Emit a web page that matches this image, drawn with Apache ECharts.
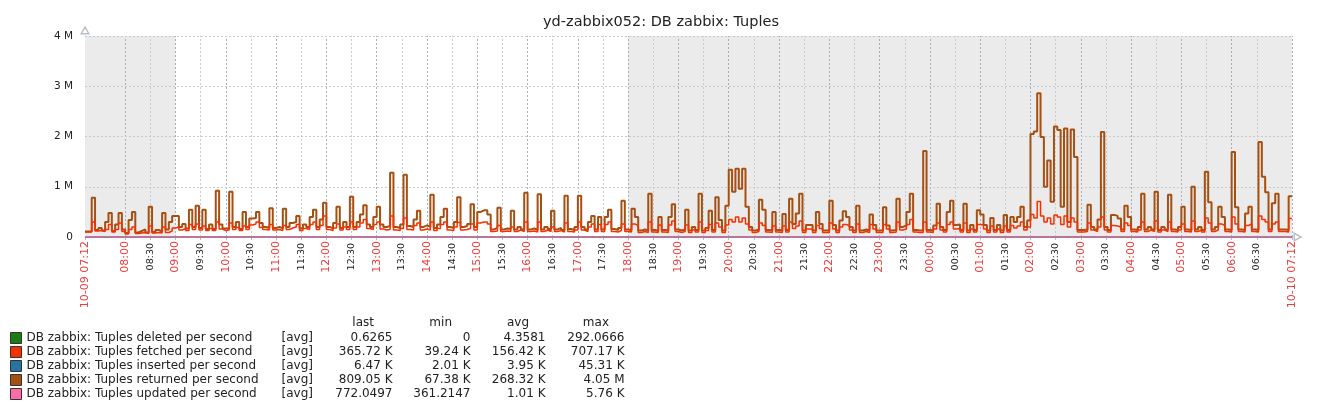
<!DOCTYPE html>
<html>
<head>
<meta charset="utf-8">
<script src="https://cdn.jsdelivr.net/npm/echarts@6/dist/echarts.min.js"></script>
<style>
  html, body { margin: 0; padding: 0; background: #fff; }
  #chart { width: 1322px; height: 411px; }
</style>
</head>
<body>
<div id="chart"></div>
<script>
// one value every 4 minutes, starting at 10-09 07:12 (values in K per second)
const STEP_MIN = 4;
const returnedK = [
  110, 110, 780, 140, 180, 130, 300, 480, 120, 250, 480, 150,               // 07:12
  80, 340, 500, 90, 120, 150, 90, 600, 100, 140, 110, 480, 150, 300, 420,   // 08
  420, 200, 260, 170, 540, 200, 620, 180, 540, 160, 250, 160, 920, 250, 170, // 09
  170, 900, 200, 300, 160, 500, 200, 370, 380, 500, 280, 200, 180, 570, 180, // 10
  200, 170, 560, 200, 280, 300, 420, 170, 250, 200, 400, 540, 200, 350, 680, // 11
  200, 170, 280, 600, 180, 300, 200, 800, 200, 300, 450, 630, 250, 200, 400, // 12
  600, 250, 200, 220, 1280, 200, 180, 250, 1240, 220, 200, 350, 520, 200, 230, // 13
  200, 840, 180, 250, 400, 560, 200, 180, 300, 790, 200, 220, 260, 650, 200, // 14
  500, 530, 530, 450, 150, 180, 580, 150, 170, 160, 520, 150, 200, 150, 880, // 15
  150, 170, 140, 850, 150, 200, 160, 520, 150, 180, 140, 820, 160, 140, 200, // 16
  820, 200, 150, 300, 420, 150, 400, 150, 400, 540, 160, 140, 180, 720, 150, // 17
  140, 560, 400, 130, 150, 130, 860, 140, 120, 400, 140, 130, 400, 650, 150, // 18
  130, 150, 540, 130, 200, 140, 860, 130, 180, 520, 140, 790, 340, 130, 620, // 19
  1340, 900, 1360, 960, 1360, 600, 200, 130, 150, 740, 540, 140, 130, 500, 140, // 20
  130, 460, 140, 760, 260, 470, 860, 130, 240, 240, 130, 500, 260, 130, 130, // 21
  720, 240, 130, 330, 510, 400, 200, 130, 620, 130, 150, 130, 450, 240, 130, // 22
  130, 590, 230, 130, 140, 760, 200, 230, 500, 860, 140, 130, 130, 1710, 140, // 23
  130, 230, 660, 200, 140, 500, 720, 240, 250, 140, 660, 130, 240, 140, 530, // 00
  450, 240, 130, 380, 140, 240, 130, 440, 140, 400, 300, 400, 600, 200, 330, // 01
  2050, 2100, 2860, 1990, 1000, 1520, 700, 2200, 2130, 600, 2160, 300, 2140, 1590, 140, // 02
  140, 150, 640, 200, 150, 350, 2090, 200, 140, 440, 420, 370, 150, 620, 400, // 03
  150, 140, 200, 860, 150, 200, 150, 900, 140, 200, 150, 840, 150, 140, 200, // 04
  600, 150, 140, 1000, 150, 200, 140, 1300, 690, 150, 200, 600, 400, 150, 140, // 05
  1690, 590, 150, 140, 470, 600, 150, 140, 1890, 1200, 890, 150, 670, 860, 150, // 06
  150, 140, 809                                                              // 07
];
const fetchedK = [
  100, 100, 300, 120, 130, 110, 150, 250, 100, 150, 280, 110,
  60, 150, 200, 70, 80, 90, 70, 220, 80, 90, 80, 200, 90, 120, 180,
  200, 140, 170, 130, 250, 150, 260, 140, 220, 130, 170, 130, 300, 160, 130,
  140, 280, 150, 190, 130, 220, 150, 240, 260, 300, 190, 150, 140, 250, 140,
  150, 130, 230, 150, 180, 200, 250, 130, 170, 150, 250, 300, 150, 230, 420,
  150, 130, 180, 260, 140, 200, 150, 300, 150, 200, 280, 350, 170, 150, 250,
  300, 160, 140, 150, 420, 140, 130, 170, 380, 150, 140, 230, 280, 140, 160,
  140, 300, 130, 170, 250, 300, 140, 130, 200, 290, 140, 150, 170, 260, 140,
  280, 300, 300, 260, 110, 120, 230, 110, 120, 110, 200, 110, 140, 110, 300,
  110, 120, 100, 300, 110, 140, 110, 200, 110, 130, 100, 280, 110, 100, 140,
  300, 140, 110, 200, 260, 110, 250, 110, 250, 300, 110, 100, 130, 260, 110,
  100, 260, 230, 90, 110, 90, 300, 100, 90, 240, 100, 90, 240, 320, 110,
  90, 110, 240, 90, 140, 100, 300, 90, 130, 250, 100, 280, 200, 90, 240,
  350, 300, 400, 300, 380, 260, 140, 90, 110, 280, 230, 100, 90, 220, 100,
  90, 220, 100, 300, 170, 220, 320, 90, 160, 160, 90, 230, 170, 90, 90,
  280, 160, 90, 200, 250, 230, 140, 90, 260, 90, 110, 90, 250, 160, 90,
  90, 250, 160, 90, 100, 300, 140, 160, 250, 350, 100, 90, 90, 300, 100,
  90, 160, 280, 140, 100, 250, 300, 160, 170, 100, 280, 90, 160, 100, 250,
  240, 160, 90, 220, 100, 160, 90, 220, 100, 230, 180, 220, 300, 140, 200,
  450, 380, 707, 420, 300, 380, 260, 440, 400, 250, 420, 200, 380, 300, 100,
  100, 110, 280, 140, 110, 200, 400, 140, 100, 230, 220, 200, 110, 280, 230,
  110, 100, 140, 300, 110, 140, 110, 320, 100, 140, 110, 300, 110, 100, 140,
  260, 110, 100, 320, 110, 140, 100, 380, 280, 110, 140, 260, 230, 110, 100,
  400, 260, 110, 100, 230, 260, 110, 100, 420, 350, 300, 110, 260, 300, 110,
  110, 100, 366
];
// hourly values for the small series
const HOUR_MIN = 60;
const deletedPerSec = [0.8, 3.1, 5.2, 4.4, 6.0, 2.7, 3.5, 4.9, 7.1, 3.3, 2.2, 4.0, 5.6, 3.8, 2.9, 6.4, 4.7, 3.0, 2.4, 5.1, 4.2, 3.6, 6.8, 2.5, 0.6];
const insertedK = [3.6, 4.1, 4.4, 4.0, 3.8, 4.3, 4.2, 3.9, 4.5, 4.1, 3.7, 4.0, 3.9, 4.2, 3.6, 3.8, 4.1, 3.5, 3.7, 4.0, 3.8, 3.9, 4.6, 3.7, 6.5];
const updatedK = [0.9, 1.1, 1.2, 1.0, 1.1, 1.3, 1.0, 0.9, 1.2, 1.1, 1.0, 0.9, 1.0, 1.1, 0.9, 1.2, 1.0, 0.8, 0.9, 1.0, 1.1, 0.9, 1.3, 1.0, 0.8];

const seriesNames = [
  'DB zabbix: Tuples deleted per second',
  'DB zabbix: Tuples fetched per second',
  'DB zabbix: Tuples inserted per second',
  'DB zabbix: Tuples returned per second',
  'DB zabbix: Tuples updated per second'
];
const seriesColors = ['#1A7C11', '#F63100', '#2774A4', '#A54F10', '#FC6EA3'];
const statLast = ['0.6265', '365.72 K', '6.47 K', '809.05 K', '772.0497'];
const statMin = ['0', '39.24 K', '2.01 K', '67.38 K', '361.2147'];
const statAvg = ['4.3581', '156.42 K', '3.95 K', '268.32 K', '1.01 K'];
const statMax = ['292.0666', '707.17 K', '45.31 K', '4.05 M', '5.76 K'];

const tickLabels = [
  '10-09 07:12', '08:00', '08:30', '09:00', '09:30', '10:00', '10:30', '11:00', '11:30',
  '12:00', '12:30', '13:00', '13:30', '14:00', '14:30', '15:00', '15:30', '16:00', '16:30',
  '17:00', '17:30', '18:00', '18:30', '19:00', '19:30', '20:00', '20:30', '21:00', '21:30',
  '22:00', '22:30', '23:00', '23:30', '00:00', '00:30', '01:00', '01:30', '02:00', '02:30',
  '03:00', '03:30', '04:00', '04:30', '05:00', '05:30', '06:00', '06:30', '10-10 07:12'
];
const workHours = ['09:00', '18:00'];
const yTicksK = [0, 1000, 2000, 3000, 4000];

const SPAN = 1440;
const START_OF_DAY = 7 * 60 + 12;
function toMinute(label) {
  if (label.length > 5) return label === tickLabels[0] ? 0 : SPAN;
  const [h, m] = label.split(':').map(Number);
  return (h * 60 + m - START_OF_DAY + SPAN) % SPAN;
}
const tickMinutes = tickLabels.map(toMinute);
const isRed = l => l.length > 5 || l.endsWith(':00');

function stepped(values, step, scale) {
  const pts = values.map((v, i) => [i * step, v * scale]);
  const lastX = values.length * step;
  if (lastX <= SPAN) pts.push([Math.min(lastX, SPAN), values[values.length - 1] * scale]);
  return pts;
}

const gridLines = [];
tickLabels.forEach((l, i) => {
  if (i === 0) return;
  gridLines.push({
    xAxis: tickMinutes[i],
    lineStyle: { color: isRed(l) ? '#a3b0ba' : '#c4ccd3', type: [2, 2], width: 1 }
  });
});
yTicksK.slice(1).forEach(v => {
  gridLines.push({ yAxis: v, lineStyle: { color: '#c4ccd3', type: [2, 2], width: 1 } });
});

const FONT = 'DejaVu Sans';
const TXT = '#222';
const hollowArrow = 'path://M5,0 L10,9 L0,9 Z M5,3 L2.4,7.6 L7.6,7.6 Z';

const myChart = echarts.init(document.getElementById('chart'));

const lineSeries = (idx, data, z, width) => ({
  name: seriesNames[idx],
  type: 'line',
  step: 'end',
  data: data,
  showSymbol: false,
  symbol: 'none',
  silent: true,
  animation: false,
  z: z,
  itemStyle: { color: seriesColors[idx] },
  lineStyle: { color: seriesColors[idx], width: width || 1.5 }
});

const backSeries = lineSeries(0, stepped(deletedPerSec, HOUR_MIN, 0.001), 2);
backSeries.markArea = {
  silent: true,
  z: 1,
  itemStyle: { color: '#ebebeb' },
  data: [
    [{ xAxis: 0 }, { xAxis: toMinute(workHours[0]) }],
    [{ xAxis: toMinute(workHours[1]) }, { xAxis: SPAN }]
  ]
};
backSeries.markLine = {
  silent: true,
  z: 1.5,
  symbol: 'none',
  label: { show: false },
  emphasis: { disabled: true },
  animation: false,
  data: gridLines
};

const cell = (w, extra) => Object.assign({ width: w, fontSize: 12, fontFamily: FONT, color: TXT, lineHeight: 11, fontWeight: 'normal' }, extra || {});

const option = {
  animation: false,
  backgroundColor: '#ffffff',
  textStyle: { fontFamily: FONT },
  title: [
    {
      text: 'yd-zabbix052: DB zabbix: Tuples',
      left: 'center',
      top: 10,
      textStyle: { fontFamily: FONT, fontSize: 14.5, fontWeight: 'normal', color: TXT }
    },
    {
      text: '{n|}{f|}{a|last}{b|min}{c|avg}{d|max}',
      left: 26,
      top: 317,
      padding: 0,
      textStyle: {
        fontWeight: 'normal',
        rich: {
          n: cell(255),
          f: cell(35),
          a: cell(58, { align: 'right', padding: [0, 18, 0, 0] }),
          b: cell(60, { align: 'right', padding: [0, 18, 0, 0] }),
          c: cell(59, { align: 'right', padding: [0, 16, 0, 0] }),
          d: cell(64, { align: 'right', padding: [0, 15, 0, 0] })
        }
      }
    }
  ],
  legend: {
    orient: 'vertical',
    left: 10,
    top: 332,
    padding: 0,
    itemWidth: 11,
    itemHeight: 11,
    itemGap: 2,
    icon: 'rect',
    selectedMode: false,
    data: seriesNames.map((name, i) => ({
      name: name,
      icon: 'rect',
      itemStyle: { color: seriesColors[i], borderColor: '#333', borderWidth: 1 }
    })),
    formatter: name => {
      const i = seriesNames.indexOf(name);
      return `{n|${name}}{f|[avg]}{a|${statLast[i]}}{b|${statMin[i]}}{c|${statAvg[i]}}{d|${statMax[i]}}`;
    },
    textStyle: {
      fontFamily: FONT,
      fontSize: 12,
      color: TXT,
      lineHeight: 11,
      rich: {
        n: cell(255),
        f: cell(35),
        a: cell(76, { align: 'right' }),
        b: cell(78, { align: 'right' }),
        c: cell(75, { align: 'right' }),
        d: cell(79, { align: 'right' })
      }
    }
  },
  grid: { left: 85, right: 30, top: 36, bottom: 174, containLabel: false },
  xAxis: {
    type: 'value',
    min: 0,
    max: SPAN,
    axisLine: {
      show: true,
      lineStyle: { color: '#b4bec7', width: 1 },
      symbol: ['none', hollowArrow],
      symbolSize: [10, 9],
      symbolOffset: [0, 6]
    },
    axisTick: { show: true, customValues: tickMinutes, length: 3, lineStyle: { color: '#b4bec7' } },
    splitLine: { show: false },
    axisLabel: {
      customValues: tickMinutes,
      rotate: 90,
      margin: 4,
      fontFamily: FONT,
      formatter: v => {
        const i = tickMinutes.indexOf(v);
        const l = i >= 0 ? tickLabels[i] : '';
        return isRed(l) ? `{r|${l}}` : `{k|${l}}`;
      },
      rich: {
        r: { color: '#ee3b3b', fontSize: 11, fontFamily: FONT },
        k: { color: TXT, fontSize: 9.5, fontFamily: FONT, padding: [0, 2, 0, 0] }
      }
    }
  },
  yAxis: {
    type: 'value',
    min: 0,
    max: 4000,
    interval: 1000,
    axisLine: {
      show: true,
      lineStyle: { color: '#b4bec7', width: 1 },
      symbol: ['none', hollowArrow],
      symbolSize: [10, 9],
      symbolOffset: [0, 6]
    },
    axisTick: { show: false },
    splitLine: { show: false },
    axisLabel: {
      margin: 12,
      fontFamily: FONT,
      fontSize: 10.5,
      color: TXT,
      formatter: v => (v === 0 ? '0' : v / 1000 + ' M')
    }
  },
  series: [
    backSeries,
    lineSeries(2, stepped(insertedK, HOUR_MIN, 1), 3),
    lineSeries(3, stepped(returnedK, STEP_MIN, 1), 4, 2),
    lineSeries(1, stepped(fetchedK, STEP_MIN, 1), 5),
    lineSeries(4, stepped(updatedK, HOUR_MIN, 1), 6)
  ]
};

myChart.setOption(option);
</script>
</body>
</html>
